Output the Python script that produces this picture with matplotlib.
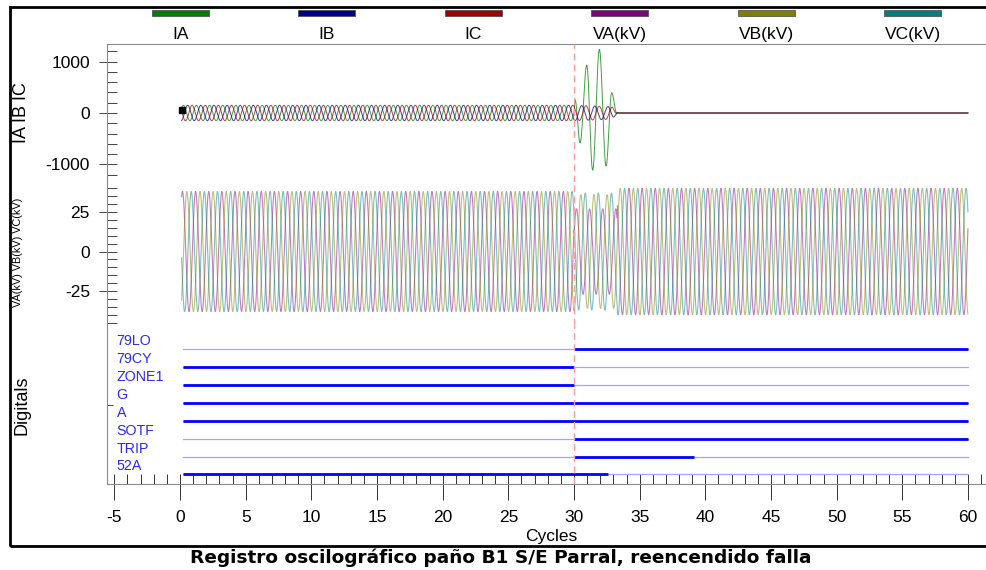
import numpy as np
import matplotlib.pyplot as plt
from matplotlib.patches import Rectangle
from matplotlib.ticker import MultipleLocator, FixedLocator

plt.rcParams['font.family'] = ['Liberation Sans', 'DejaVu Sans']
plt.rcParams['axes.unicode_minus'] = False

# Canales analogicos y colores de la leyenda
canales = ['IA', 'IB', 'IC', 'VA(kV)', 'VB(kV)', 'VC(kV)']
colores = ['#008000', '#000090', '#a00000', '#800080', '#808000', '#008080']

muestras_ciclo = 64
t_inicio = 0.12
t_fin = 60.0
t_falla = 30.0
t_apertura = 33.3

i_pre = 150.0      # amplitud corrientes prefalla (A)
v_pre = 38.0       # amplitud tensiones prefalla (kV)
v_falla = [27.0, 36.0, 37.0]   # VA, VB, VC durante la falla
v_post = 40.0      # amplitud tensiones tras la apertura

# Extremos de IA durante la falla (ciclo, A)
ia_falla_t = [30.08, 30.46, 30.97, 31.42, 31.93, 32.44, 32.87, 33.25]
ia_falla_v = [260, -580, 930, -1110, 1235, -1030, 395, 0]

# Envolvente IB / IC durante la falla
ibc_env_t = [30.0, 32.9, 33.3]
ibc_env_v = [150.0, 120.0, 0.0]

# Digitales: nombre, inicio y fin del estado activo
digitales = ['79LO', '79CY', 'ZONE1', 'G', 'A', 'SOTF', 'TRIP', '52A']
dig_ini = [30.0, 0.2, 0.2, 0.2, 0.2, 30.0, 30.0, 0.2]
dig_fin = [60.0, 30.0, 30.0, 60.0, 60.0, 60.0, 39.1, 32.6]

titulo = 'Registro oscilográfico paño B1 S/E Parral, reencendido falla'


# ---- senales ----
t = np.arange(t_inicio, t_fin, 1.0 / muestras_ciclo)
fases = [0.0, -2 * np.pi / 3, 2 * np.pi / 3]

corrientes = []
for k in range(3):
    onda = i_pre * np.sin(2 * np.pi * t + fases[k])
    env = np.interp(t, ibc_env_t, ibc_env_v)
    onda = np.where(t < t_falla, onda, np.sin(2 * np.pi * t + fases[k]) * env)
    onda[t >= t_apertura] = 0.0
    corrientes.append(onda)

# IA en falla: semiondas entre los extremos leidos
ia = corrientes[0]
tk = [t_falla] + ia_falla_t
vk = [i_pre * np.sin(2 * np.pi * t_falla)] + ia_falla_v
for j in range(len(tk) - 1):
    m = (t >= tk[j]) & (t < tk[j + 1])
    u = (t[m] - tk[j]) / (tk[j + 1] - tk[j])
    ia[m] = vk[j] + (vk[j + 1] - vk[j]) * (1 - np.cos(np.pi * u)) / 2

tensiones = []
for k in range(3):
    amp = np.where(t < t_falla, v_pre, np.where(t < t_apertura, v_falla[k], v_post))
    tensiones.append(amp * np.sin(2 * np.pi * t + fases[k] + 0.4))


# ---- figura ----
fig = plt.figure(figsize=(9.86, 5.7), dpi=100)
izq = 107 / 986
ancho = 1 - izq
def fy(px):
    return 1 - px / 570

ax_i = fig.add_axes([izq, fy(182), ancho, fy(44) - fy(182)])
ax_v = fig.add_axes([izq, fy(325), ancho, fy(182) - fy(325)], sharex=ax_i)
ax_d = fig.add_axes([izq, fy(484), ancho, fy(325) - fy(484)], sharex=ax_i)

gris = '#8a8a8a'
for ax in (ax_i, ax_v, ax_d):
    for s in ('right', 'top', 'bottom'):
        ax.spines[s].set_visible(False)
    ax.spines['left'].set_color(gris)
    ax.axvline(t_falla, color='#ff9c9c', lw=1, ls=(0, (5, 3)), zorder=5)
    ax.tick_params(axis='y', which='major', direction='out', length=5.8,
                   width=0.7, color='#444444', labelsize=12.5, pad=6.5)
    ax.tick_params(axis='y', which='minor', direction='in', length=7.2,
                   width=0.7, color='#444444')
    ax.yaxis.remove_overlapping_locs = False
ax_i.spines['top'].set_visible(True)
ax_i.spines['top'].set_color(gris)
ax_d.spines['bottom'].set_visible(True)
ax_d.spines['bottom'].set_color(gris)

ax_i.set_xlim(-5.56, 61.37)

# corrientes
for k in range(3):
    ax_i.plot(t, corrientes[k], color=colores[k], lw=0.7, alpha=0.75)
ax_i.plot(0.15, 50, marker='s', ms=4.5, color='black')
ax_i.set_ylim(-1340, 1340)
ax_i.set_yticks([-1000, 0, 1000])
ax_i.yaxis.set_minor_locator(MultipleLocator(200))
ax_i.tick_params(axis='x', which='both', bottom=False, labelbottom=False)

# tensiones
for k in range(3):
    ax_v.plot(t, tensiones[k], color=colores[k + 3], lw=0.8, alpha=0.5)
ax_v.set_ylim(-46.5, 44)
ax_v.set_yticks([-25, 0, 25])
ax_v.yaxis.set_minor_locator(MultipleLocator(5))
ax_v.tick_params(axis='x', which='both', bottom=False, labelbottom=False)

# digitales
for i, nombre in enumerate(digitales):
    ax_d.plot([0.25, t_fin], [i, i], color='#a5a5ff', lw=0.9)
    ax_d.plot([dig_ini[i], dig_fin[i]], [i, i], color='#0000ff', lw=2.0,
              solid_capstyle='butt')
    ax_d.text(-4.82, i - 0.45, nombre, color='#2a2af0', fontsize=10.3,
              ha='left', va='center')
ax_d.set_ylim(7.53, -1.34)
ax_d.yaxis.set_major_locator(FixedLocator([]))
ax_d.yaxis.set_minor_locator(FixedLocator([3.1]))
ax_d.tick_params(axis='y', which='minor', length=4.5)

ax_d.xaxis.set_major_locator(MultipleLocator(5))
ax_d.xaxis.set_minor_locator(MultipleLocator(1))
ax_d.xaxis.remove_overlapping_locs = False
ax_d.tick_params(axis='x', which='major', direction='out', length=11.5,
                 width=0.7, color='#333333', labelsize=12.5, pad=7)
ax_d.tick_params(axis='x', which='minor', direction='in', length=7.2,
                 width=0.7, color='#333333')
ax_d.set_xlabel('Cycles', fontsize=12.5, labelpad=5)
ax_d.xaxis.set_label_coords(0.505, -0.28)

# leyenda superior
for k, nombre in enumerate(canales):
    xc = (k + 0.5) / 6
    ax_i.add_patch(Rectangle((xc - 0.0325, 1.205), 0.065, 0.041,
                             transform=ax_i.transAxes, clip_on=False,
                             facecolor=colores[k], edgecolor='#444444', lw=0.5))
    ax_i.text(xc, 1.07, nombre, transform=ax_i.transAxes, ha='center',
              va='center', fontsize=12.5)

# etiquetas de eje
fig.text(22 / 986, fy(113), 'IA IB IC', rotation=90, ha='center', va='center',
         fontsize=13)
fig.text(18 / 986, fy(252), 'VA(kV) VB(kV) VC(kV)', rotation=90, ha='center',
         va='center', fontsize=7.8)
fig.text(22 / 986, fy(405), 'Digitals', rotation=90, ha='center', va='center',
         fontsize=13)

# marco y titulo
fig.patches.append(Rectangle((10 / 986, fy(546)), 1.0, fy(7) - fy(546),
                             transform=fig.transFigure, fill=False,
                             edgecolor='black', lw=2, clip_on=False))
fig.text(0.508, fy(558), titulo, ha='center', va='center', fontsize=13.3,
         fontweight='bold', family='DejaVu Sans')

fig.savefig('out.png', dpi=100)
